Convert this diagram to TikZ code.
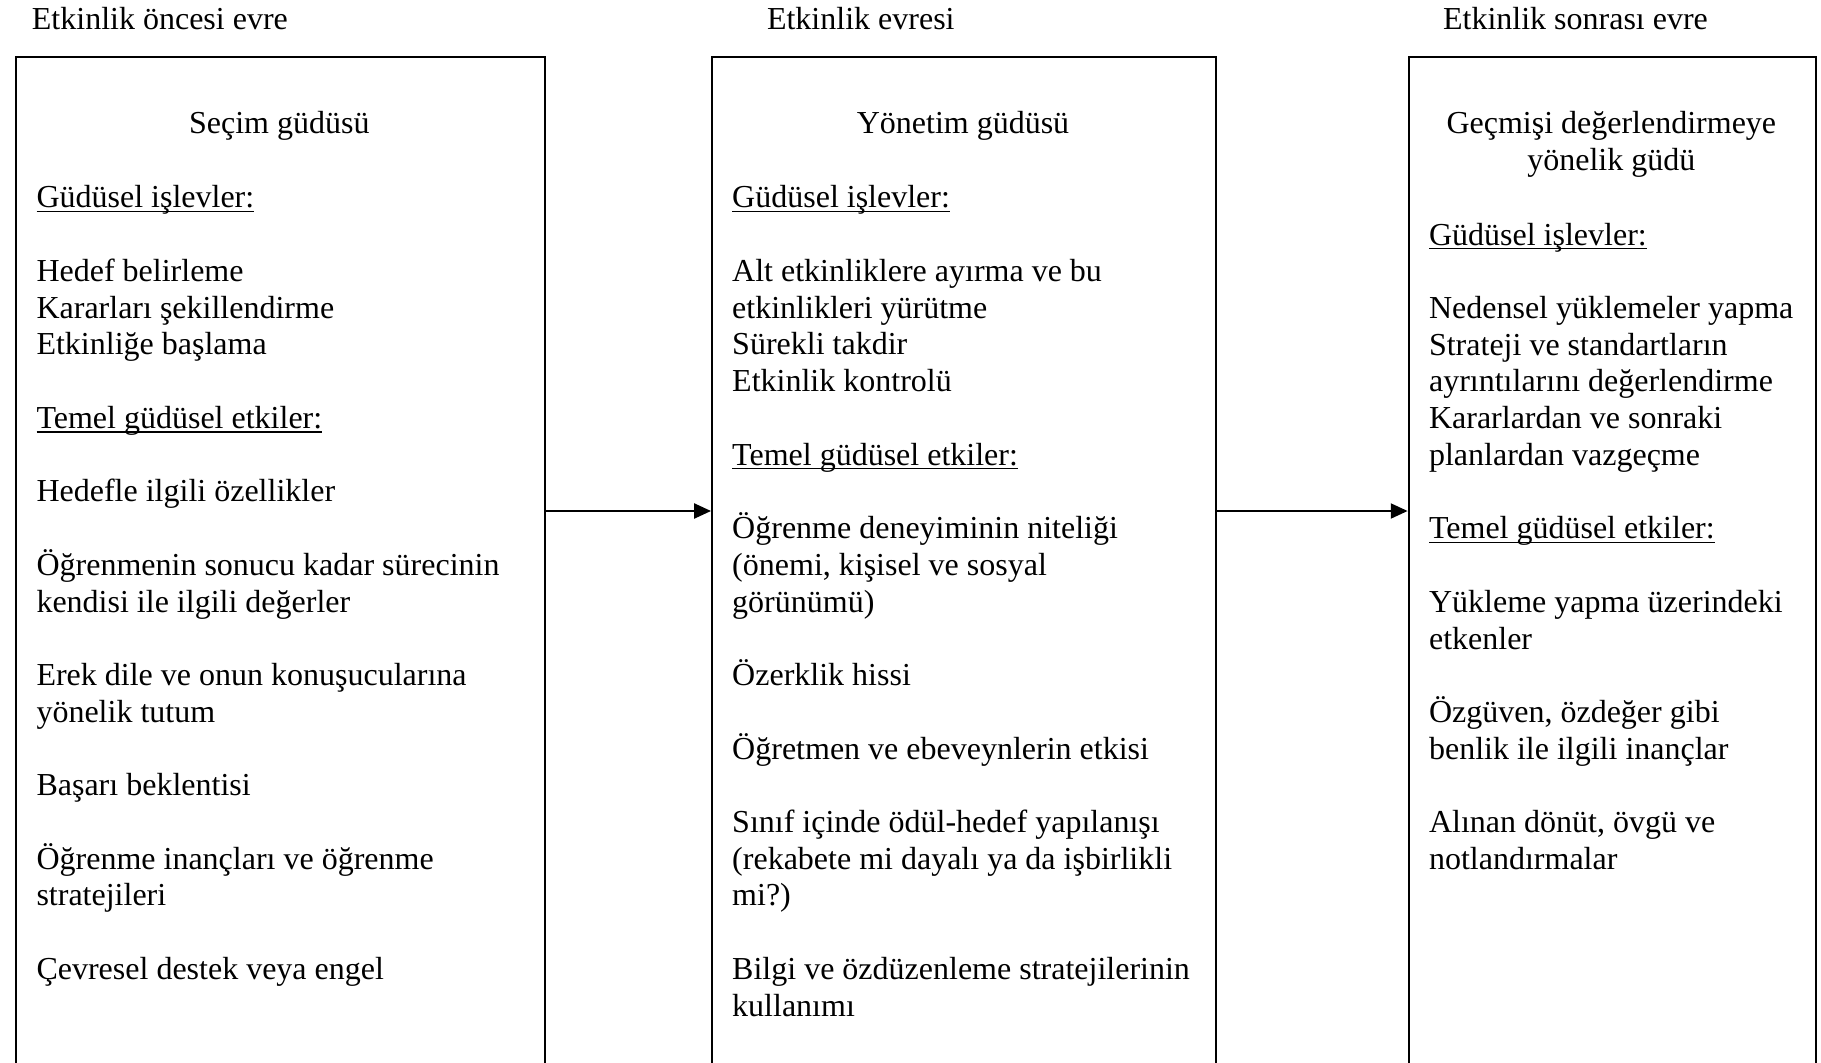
\documentclass[tikz,border=0pt]{standalone}
\usepackage{fontspec}
\setmainfont{Liberation Serif}
\usetikzlibrary{arrows.meta,positioning}
\newlength\gapline
\setlength\gapline{13.78pt}
\newcommand\headline[1]{\underline{\smash{#1}}}

\begin{document}
\begin{tikzpicture}[
  x=0.375pt, y=-0.375pt,
  every node/.style={font=\fontsize{12pt}{13.78pt}\selectfont},
  phase/.style={anchor=base west, inner sep=0pt},
  stagebox/.style={draw, line width=0.8pt, anchor=north west, inner sep=0pt,
                   minimum height=410pt},
  stagetitle/.style={anchor=north, inner sep=0pt, align=center},
  stagebody/.style={anchor=north west, inner sep=0pt, align=left},
  flow/.style={-{Triangle[length=6.3pt,width=5.6pt]}, line width=0.8pt},
]
  \useasboundingbox (0,0) rectangle (1821,1062);
  \clip (0,0) rectangle (1821,1062);

  % phase headings
  \node[phase] (pre) at (31.4,29.6) {Etkinlik öncesi evre};
  \node[phase] (act) at (766.5,29.6) {Etkinlik evresi};
  \node[phase] (post) at (1442.5,29.6) {Etkinlik sonrası evre};

  % boxes
  \node[stagebox, minimum width=198.2pt] (b1) at (15,55.7) {};
  \node[stagebox, minimum width=189pt] (b2) at (711,55.7) {};
  \node[stagebox, minimum width=152.8pt] (b3) at (1407.6,55.7) {};

  % titles
  \node[stagetitle] (t1) at (279.3,106.3) {\rule{0pt}{10pt}Seçim güdüsü};
  \node[stagetitle] (t2) at (963,106.3) {\rule{0pt}{10pt}Yönetim güdüsü};
  \node[stagetitle] (t3) at (1611.3,106.3)
    {\rule{0pt}{10pt}Geçmişi değerlendirmeye\\ yönelik güdü};

  % contents
  \node[stagebody] (c1) at (36,180.6) {\rule{0pt}{10pt}\headline{Güdüsel işlevler:}\\[\gapline]
    Hedef belirleme\\
    Kararları şekillendirme\\
    Etkinliğe başlama\\[\gapline]
    \headline{Temel güdüsel etkiler:}\\[\gapline]
    Hedefle ilgili özellikler\\[\gapline]
    Öğrenmenin sonucu kadar sürecinin\\
    kendisi ile ilgili değerler\\[\gapline]
    Erek dile ve onun konuşucularına\\
    yönelik tutum\\[\gapline]
    Başarı beklentisi\\[\gapline]
    Öğrenme inançları ve öğrenme\\
    stratejileri\\[\gapline]
    Çevresel destek veya engel};

  \node[stagebody] (c2) at (731.7,180.6) {\rule{0pt}{10pt}\headline{Güdüsel işlevler:}\\[\gapline]
    Alt etkinliklere ayırma ve bu\\
    etkinlikleri yürütme\\
    Sürekli takdir\\
    Etkinlik kontrolü\\[\gapline]
    \headline{Temel güdüsel etkiler:}\\[\gapline]
    Öğrenme deneyiminin niteliği\\
    (önemi, kişisel ve sosyal\\
    görünümü)\\[\gapline]
    Özerklik hissi\\[\gapline]
    Öğretmen ve ebeveynlerin etkisi\\[\gapline]
    Sınıf içinde ödül-hedef yapılanışı\\
    (rekabete mi dayalı ya da işbirlikli\\
    mi?)\\[\gapline]
    Bilgi ve özdüzenleme stratejilerinin\\
    kullanımı};

  \node[stagebody] (c3) at (1428.5,217.8) {\rule{0pt}{10pt}\headline{Güdüsel işlevler:}\\[\gapline]
    Nedensel yüklemeler yapma\\
    Strateji ve standartların\\
    ayrıntılarını değerlendirme\\
    Kararlardan ve sonraki\\
    planlardan vazgeçme\\[\gapline]
    \headline{Temel güdüsel etkiler:}\\[\gapline]
    Yükleme yapma üzerindeki\\
    etkenler\\[\gapline]
    Özgüven, özdeğer gibi\\
    benlik ile ilgili inançlar\\[\gapline]
    Alınan dönüt, övgü ve\\
    notlandırmalar};

  % arrows between phases
  \coordinate (mid) at (0,511);
  \draw[flow] (b1.east |- mid) -- (b2.west |- mid);
  \draw[flow] (b2.east |- mid) -- (b3.west |- mid);
\end{tikzpicture}
\end{document}
